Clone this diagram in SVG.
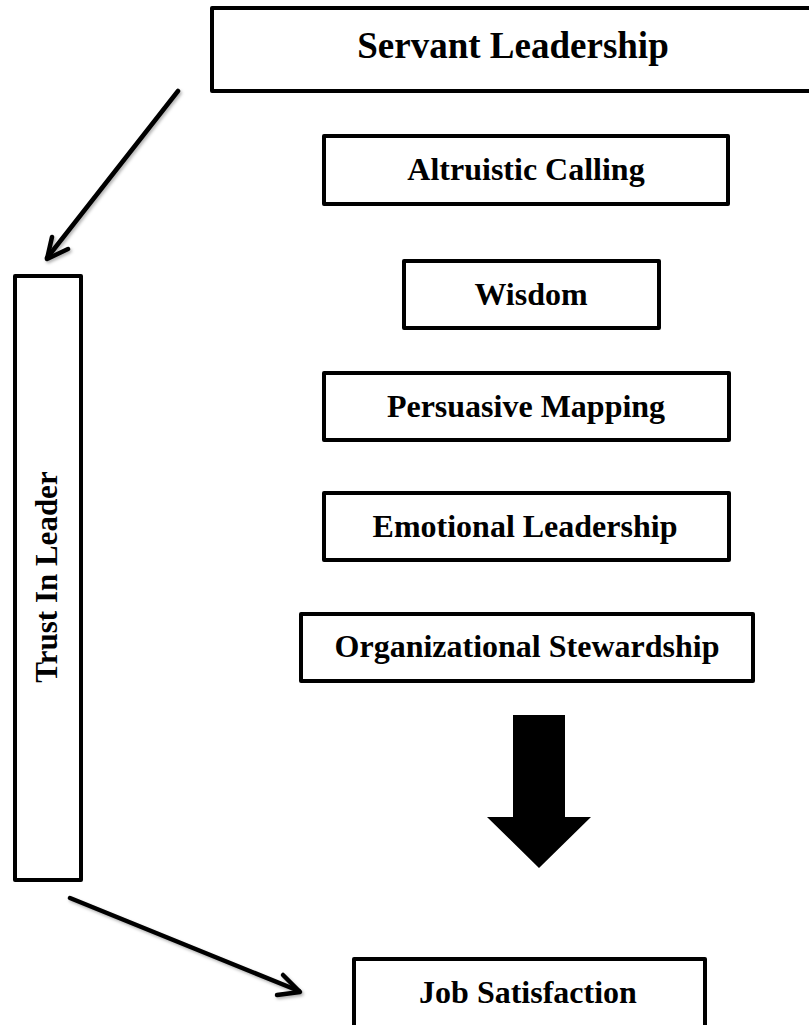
<svg xmlns="http://www.w3.org/2000/svg" width="809" height="1025" viewBox="0 0 809 1025">
  <style>
    .box { fill: #ffffff; stroke: #000000; stroke-width: 4; stroke-linejoin: round; }
    .label { font-family: "Liberation Serif", "Times New Roman", serif; font-weight: bold; font-size: 32px; fill: #000000; text-anchor: middle; }
    .title { font-size: 37px; }
    .vertical { font-size: 31px; }
    .link { fill: none; stroke: #000000; stroke-width: 4.5; stroke-linecap: round; stroke-linejoin: round; }
  </style>
  <defs>
    <filter id="softShadow" x="-20%" y="-20%" width="140%" height="140%">
      <feDropShadow dx="1.5" dy="2" stdDeviation="1.5" flood-color="#000000" flood-opacity="0.3"/>
    </filter>
  </defs>

  <rect x="0" y="0" width="809" height="1025" fill="#ffffff"/>

  <g id="servant-leadership">
    <rect class="box" x="212" y="8" width="620" height="83"/>
    <text class="label title" x="513" y="58">Servant Leadership</text>
  </g>

  <g id="altruistic-calling">
    <rect class="box" x="324" y="136" width="404" height="68"/>
    <text class="label" x="526" y="180">Altruistic Calling</text>
  </g>

  <g id="wisdom">
    <rect class="box" x="404" y="261" width="255" height="67"/>
    <text class="label" x="531" y="305">Wisdom</text>
  </g>

  <g id="persuasive-mapping">
    <rect class="box" x="324" y="373" width="405" height="67"/>
    <text class="label" x="526" y="417">Persuasive Mapping</text>
  </g>

  <g id="emotional-leadership">
    <rect class="box" x="324" y="493" width="405" height="67"/>
    <text class="label" x="525" y="537">Emotional Leadership</text>
  </g>

  <g id="organizational-stewardship">
    <rect class="box" x="301" y="614" width="452" height="67"/>
    <text class="label" x="527" y="657">Organizational Stewardship</text>
  </g>

  <g id="trust-in-leader">
    <rect class="box" x="15" y="276" width="66" height="604"/>
    <text class="label vertical" transform="translate(57,577) rotate(-90)" x="0" y="0">Trust In Leader</text>
  </g>

  <g id="job-satisfaction">
    <rect class="box" x="354" y="959" width="351" height="68"/>
    <text class="label" x="528" y="1003">Job Satisfaction</text>
  </g>

  <g id="connectors">
    <!-- Servant Leadership to Trust In Leader -->
    <g filter="url(#softShadow)">
      <line class="link" x1="178" y1="91" x2="47" y2="258"/>
      <polyline class="link" points="52,237 47,259 68,249"/>
    </g>
    <!-- Trust In Leader to Job Satisfaction -->
    <g filter="url(#softShadow)">
      <line class="link" x1="70" y1="898" x2="299" y2="991"/>
      <polyline class="link" points="283,975 300,992 277,995"/>
    </g>
    <!-- block arrow from the dimensions to Job Satisfaction -->
    <polygon points="513,715 565,715 565,817 591,817 539,868 487,817 513,817" fill="#000000"/>
  </g>
</svg>
